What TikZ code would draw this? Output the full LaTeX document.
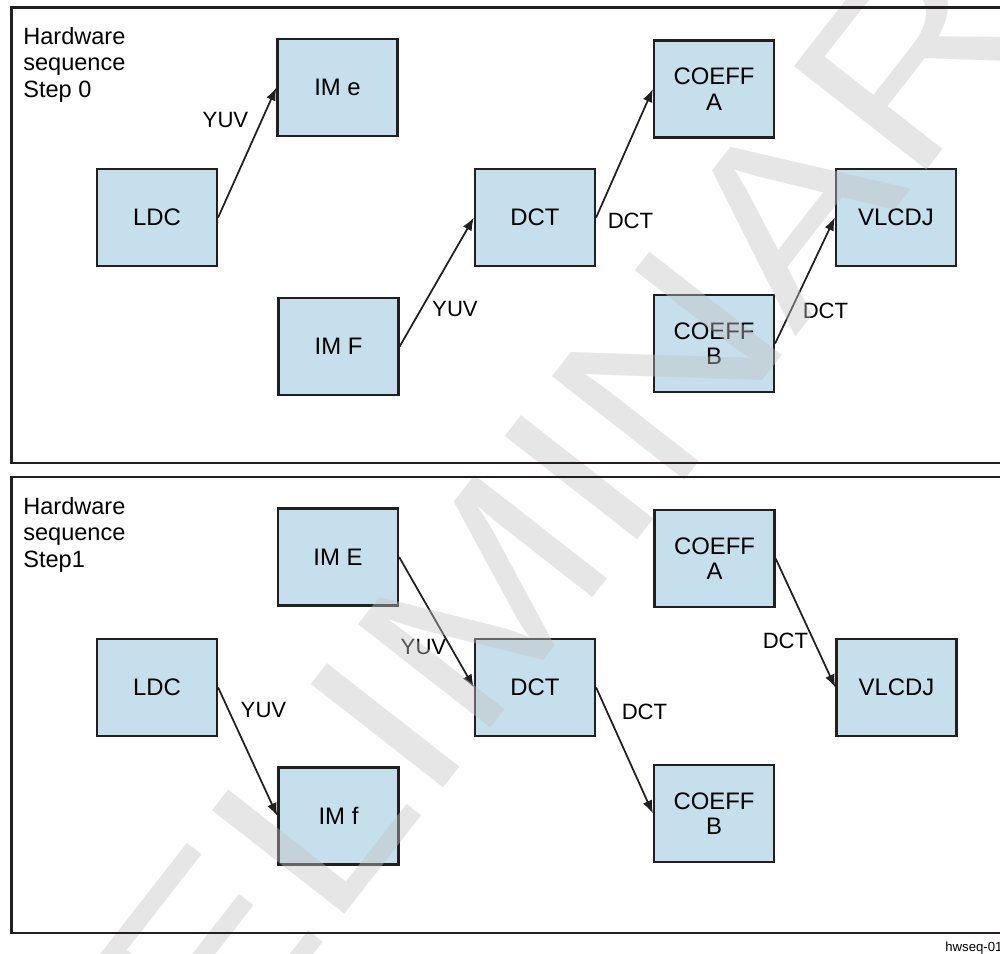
\documentclass[tikz,border=0pt]{standalone}
\usepackage{fontspec}
\setmainfont{Liberation Sans}
\usetikzlibrary{arrows.meta}
\definecolor{boxblue}{RGB}{197,224,236}
\definecolor{wmgray}{RGB}{195,195,195}
\definecolor{inkblack}{RGB}{35,31,32}
\begin{document}
\begin{tikzpicture}[x=0.02cm,y=-0.02cm,
  blk/.style={draw=inkblack,line width=1.3pt,fill=boxblue,minimum width=2.4cm,minimum height=1.94cm,
    align=center,inner sep=0pt,font=\fontsize{13.6}{14.5}\selectfont},
  lbl/.style={inner sep=0pt,font=\fontsize{12.6}{15}\selectfont},
  flow/.style={draw=inkblack,line width=1pt,-{Latex[length=0.26cm,width=0.2cm]}},
  panel/.style={draw=inkblack,line width=1.6pt}]
\useasboundingbox (0,0) rectangle (1000,953);
% step 0
\node[anchor=north west,align=left,inner sep=0pt,font=\fontsize{13.4}{15.1}\selectfont] (title0) at (23,27) {Hardware\\sequence\\Step 0};
\node[blk] (ime) at (337.5,87.5) {IM e};
\node[blk] (ldc0) at (157,217.5) {LDC};
\node[blk] (imF) at (338.5,346.5) {IM F};
\node[blk] (dct0) at (535,217.5) {DCT};
\node[blk] (coefa0) at (714,89) {COEFF\\A};
\node[blk] (vlcdj0) at (896,217.5) {VLCDJ};
\node[blk] (coefb0) at (714,343.5) {COEFF\\B};
\draw[flow] (ldc0.east) -- (ime.west);
\draw[flow] (imF.east) -- (dct0.west);
\draw[flow] (dct0.east) -- (coefa0.west);
\draw[flow] (coefb0.east) -- (vlcdj0.west);
\node[lbl] (yuv1) at (225.5,120) {YUV};
\node[lbl] (yuv2) at (455,308.5) {YUV};
\node[lbl] (dct1) at (630.5,221) {DCT};
\node[lbl] (dct2) at (825.5,311) {DCT};
% step 1
\node[anchor=north west,align=left,inner sep=0pt,font=\fontsize{13.4}{15.1}\selectfont] (title1) at (23,497) {Hardware\\sequence\\Step1};
\node[blk] (imE) at (338,557) {IM E};
\node[blk] (ldc1) at (157,687.5) {LDC};
\node[blk] (imf) at (338.5,816) {IM f};
\node[blk] (dct3) at (535,687.5) {DCT};
\node[blk] (coefa1) at (714.5,558.5) {COEFF\\A};
\node[blk] (vlcdj1) at (896.5,687.5) {VLCDJ};
\node[blk] (coefb1) at (714,813.5) {COEFF\\B};
\draw[flow] (ldc1.east) -- (imf.west);
\draw[flow] (imE.east) -- (dct3.west);
\draw[flow] (dct3.east) -- (coefb1.west);
\draw[flow] (coefa1.east) -- (vlcdj1.west);
\node[lbl] (yuv3) at (263.5,709.5) {YUV};
\node[lbl] (yuv4) at (423.5,646.5) {YUV};
\node[lbl] (dct4) at (644.5,712) {DCT};
\node[lbl] (dct5) at (785.5,640.5) {DCT};
% watermark
\node[anchor=base west,rotate=52,xscale=1.16,inner sep=0pt,text=wmgray,text opacity=0.42,
  font=\fontsize{139}{140}\selectfont] (wmark) at (-28,1392) {PRELIMINARY};
% frames
\draw[panel] (11.5,7.5) rectangle (1010,463);
\draw[panel] (11.5,477) rectangle (1010,933);
\node[anchor=base west,inner sep=0pt,font=\fontsize{7.5}{9}\selectfont] (figid) at (945,951) {hwseq-01};
\end{tikzpicture}
\end{document}
